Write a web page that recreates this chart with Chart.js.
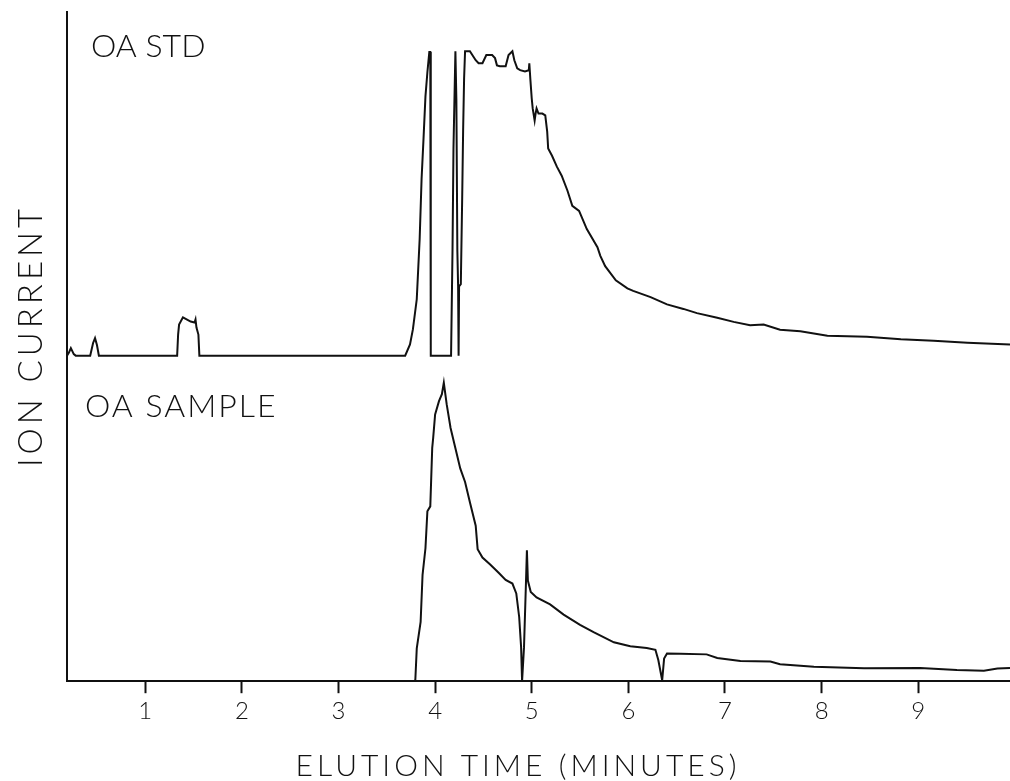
<!DOCTYPE html>
<html>
<head>
<meta charset="utf-8">
<script src="https://cdn.jsdelivr.net/npm/chart.js@4.4.0/dist/chart.umd.min.js"></script>
<style>
  body { margin: 0; background: #fff; }
  #wrap { width: 1010px; height: 781px; }
</style>
</head>
<body>
<div id="wrap"><canvas id="graph--ion"></canvas></div>
<script>
// Elution time (minutes) and relative ion current
const stdTimes = [0.19, 0.21, 0.23, 0.26, 0.28, 0.43, 0.46, 0.48, 0.50, 0.52,
  1.33, 1.34, 1.35, 1.39, 1.47, 1.51, 1.52, 1.53, 1.55, 1.56,
  3.69, 3.74, 3.77, 3.81, 3.84, 3.86, 3.88, 3.90, 3.92, 3.94, 3.95, 3.955,
  4.165, 4.18, 4.19, 4.21, 4.22, 4.23, 4.238, 4.243, 4.248, 4.266, 4.28, 4.29, 4.30, 4.31,
  4.36, 4.42, 4.45, 4.49, 4.53, 4.59, 4.62, 4.64, 4.67, 4.73, 4.76, 4.80, 4.82, 4.85,
  4.88, 4.93, 4.97, 4.975, 4.985, 5.00, 5.01, 5.03, 5.04, 5.05, 5.07, 5.11, 5.14, 5.16,
  5.17, 5.21, 5.26, 5.31, 5.37, 5.42, 5.49, 5.57, 5.68, 5.71, 5.76, 5.87, 5.99, 6.05,
  6.23, 6.40, 6.57, 6.71, 6.92, 7.09, 7.26, 7.40, 7.57, 7.78, 8.06, 8.47, 8.82, 9.16, 9.51, 9.95]
const stdCurrent = [0, 1, 2.5, 0.5, 0, 0, 4.2, 5.8, 3.5, 0,
  0, 7, 10.3, 12.7, 11.3, 11, 12, 9.3, 7, 0,
  0, 3.7, 8.7, 18.7, 38.7, 58.7, 72, 86, 94, 100.7, 100.7, 0,
  0, 35, 68.7, 101, 85, 35, 23, 0, 23, 23.7, 52, 75, 92, 101,
  101, 98, 97, 97, 99.7, 99.7, 98.7, 96.3, 96, 96, 99.7, 101, 98, 95.3,
  94.7, 94.3, 94.7, 97, 92, 85.3, 82, 78, 80.3, 82, 80.3, 80.3, 79.7, 74.3,
  68.7, 66.3, 62.7, 59.7, 54.7, 49.7, 48, 42, 36, 33.1, 29.7, 25, 22.3, 21.5,
  19.4, 17, 15.5, 14.1, 12.6, 11.2, 10.1, 10.3, 8.6, 8.1, 6.6, 6.3, 5.4, 4.9, 4.3, 3.7]

const sampleTimes = [0.19, 3.78, 3.795, 3.81, 3.85, 3.87, 3.90, 3.92, 3.95, 3.97, 3.98,
  4.00, 4.04, 4.07, 4.09, 4.12, 4.16, 4.21, 4.26, 4.31, 4.36, 4.42, 4.44, 4.49, 4.57,
  4.66, 4.73, 4.80, 4.84, 4.87, 4.89, 4.90, 4.92, 4.94, 4.95, 4.96, 4.99, 5.05, 5.19,
  5.33, 5.50, 5.64, 5.85, 6.02, 6.19, 6.28, 6.31, 6.35, 6.37, 6.40, 6.54, 6.81, 6.92,
  7.16, 7.47, 7.57, 7.92, 8.44, 9.02, 9.40, 9.68, 9.82, 9.95]
const sampleCurrent = [0, 0, 0.3, 10.9, 19.7, 35.3, 44.1, 56.4, 58, 77.4, 80.7,
  88.5, 92.9, 95.2, 99, 91.8, 84, 77.3, 70.6, 66.1, 59.4, 51.6, 43.8, 41, 38.7,
  35.9, 33.6, 32.4, 29.1, 21.3, 11.3, 0, 11.3, 32.4, 43.4, 33.4, 29.6, 27.8, 25.5,
  22.1, 18.7, 16.3, 12.9, 11.6, 11, 10.4, 7, 0.3, 7.5, 9.2, 9.1, 8.9, 7.7,
  6.7, 6.5, 5.6, 4.8, 4.3, 4.4, 3.7, 3.5, 4.2, 4.4]

const timeTicks = [1, 2, 3, 4, 5, 6, 7, 8, 9]
const panelNames = ['OA STD', 'OA SAMPLE']
const xTitle = 'ELUTION TIME (MINUTES)'
const yTitle = 'ION CURRENT'

const plotFont = 'Lato, "DejaVu Sans", sans-serif'

// panel names and the spaced-out axis titles, drawn like the plotter lettering
const plotLabels = {
  id: 'plotLabels',
  afterDraw(chart) {
    const { ctx, chartArea } = chart
    ctx.save()
    ctx.fillStyle = '#111'
    ctx.textBaseline = 'alphabetic'
    ctx.font = '300 32px ' + plotFont
    ctx.letterSpacing = '0px'
    ctx.fillText(panelNames[0], chartArea.left + 24, chartArea.top + 45)
    ctx.letterSpacing = '2px'
    ctx.fillText(panelNames[1], chartArea.left + 18, chartArea.top + 405)

    ctx.letterSpacing = '4px'
    ctx.textAlign = 'center'
    ctx.font = '300 30px ' + plotFont
    ctx.fillText(xTitle, 518, 776)

    ctx.translate(42, 338)
    ctx.rotate(-Math.PI / 2)
    ctx.font = '300 33px ' + plotFont
    ctx.fillText(yTitle, 2, 0)
    ctx.restore()
  }
}

const ion = document.querySelector('#graph--ion')

const ionChart = new Chart(ion, {
  type: 'line',
  data: {
    datasets: [
      {
        label: panelNames[0],
        data: stdTimes.map((t, i) => ({ x: t, y: stdCurrent[i] })),
        yAxisID: 'y2',
        borderColor: '#111',
        borderWidth: 2,
        pointRadius: 0,
        tension: 0,
        fill: false
      },
      {
        label: panelNames[1],
        data: sampleTimes.map((t, i) => ({ x: t, y: sampleCurrent[i] })),
        yAxisID: 'y',
        borderColor: '#111',
        borderWidth: 2,
        pointRadius: 0,
        tension: 0,
        fill: false
      }
    ]
  },
  options: {
    responsive: true,
    maintainAspectRatio: false,
    animation: false,
    layout: { padding: { top: 12, right: 0, left: 59, bottom: 51 } },
    plugins: {
      legend: { display: false },
      tooltip: { enabled: false }
    },
    scales: {
      x: {
        type: 'linear',
        min: 0.19,
        max: 9.95,
        afterBuildTicks: scale => { scale.ticks = timeTicks.map(v => ({ value: v })) },
        grid: { drawOnChartArea: false, drawTicks: true, tickLength: 12, tickColor: '#111', tickWidth: 2 },
        border: { display: true, color: '#111', width: 2 },
        ticks: { color: '#111', font: { family: plotFont, size: 24, weight: 300 }, padding: 4, maxRotation: 0 }
      },
      y: {
        min: 0,
        max: 222,
        position: 'left',
        grid: { display: false },
        border: { display: true, color: '#111', width: 2 },
        ticks: { display: false }
      },
      y2: {
        min: -108,
        max: 114,
        display: false
      }
    }
  },
  plugins: [plotLabels]
})
</script>
</body>
</html>
